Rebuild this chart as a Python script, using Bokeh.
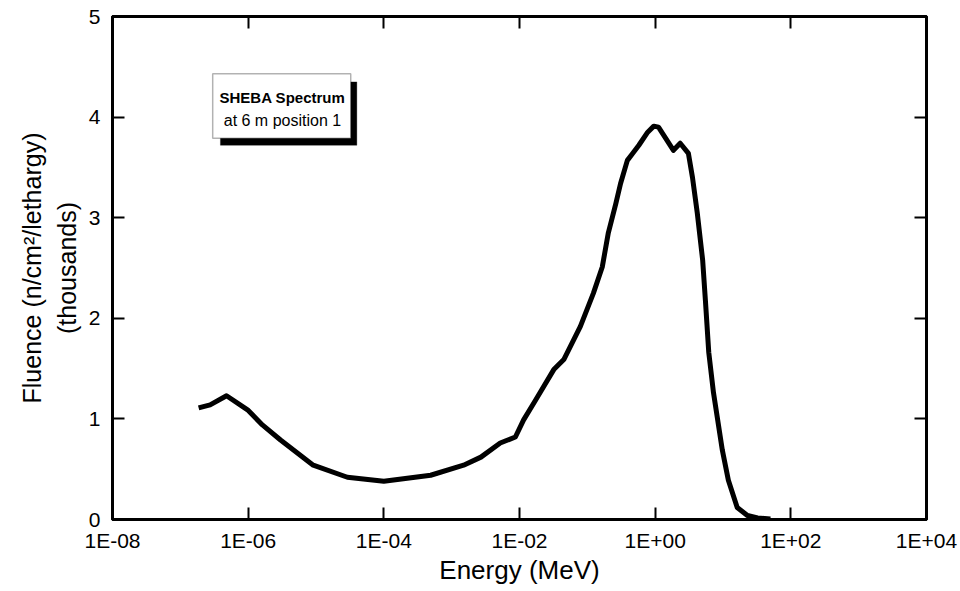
import math
from bokeh.plotting import figure
from bokeh.models import (LinearAxis, FixedTicker, BoxAnnotation, Label, Title,
                          Range1d, ColumnDataSource)
from bokeh.embed import file_html
from bokeh.resources import INLINE

# ---- data ----
energy_mev = [1.86e-7, 2.75e-7, 4.8e-7, 9.8e-7, 1.62e-6, 3.0e-6, 9.1e-6, 2.9e-5, 1.0e-4,
              4.9e-4, 1.5e-3, 2.7e-3, 5.2e-3, 8.7e-3, 1.15e-2, 1.74e-2, 3.2e-2, 4.5e-2,
              7.9e-2, 0.123, 0.166, 0.204, 0.263, 0.309, 0.389, 0.468, 0.575, 0.776,
              0.955, 1.12, 1.86, 2.34, 3.09, 3.55, 4.17, 5.01, 5.50, 6.17, 7.24, 9.77,
              12.0, 16.2, 22.9, 32.4, 50.1]
fluence_k = [1.11, 1.14, 1.23, 1.09, 0.94, 0.79, 0.54, 0.42, 0.38,
             0.44, 0.54, 0.62, 0.76, 0.82, 0.99, 1.19, 1.49, 1.59,
             1.92, 2.25, 2.51, 2.85, 3.14, 3.34, 3.57, 3.64, 3.72, 3.85,
             3.91, 3.90, 3.67, 3.74, 3.64, 3.40, 3.05, 2.58, 2.18, 1.66, 1.26, 0.69,
             0.39, 0.12, 0.04, 0.015, 0.005]

x_ticks = [1e-8, 1e-6, 1e-4, 1e-2, 1e0, 1e2, 1e4]
x_tick_labels = ["1E-08", "1E-06", "1E-04", "1E-02", "1E+00", "1E+02", "1E+04"]
y_ticks = [0, 1, 2, 3, 4, 5]

x_title = "Energy (MeV)"
y_title_1 = "Fluence (n/cm\u00b2/lethargy)"
y_title_2 = "(thousands)"
box_line_1 = "SHEBA Spectrum"
box_line_2 = "at 6 m position 1"

FONT = "Liberation Sans"

p = figure(width=960, height=591, x_axis_type="log", output_backend="svg",
           toolbar_location=None, x_range=Range1d(1e-8, 1e4), y_range=Range1d(0, 5),
           min_border_left=112, min_border_right=34, min_border_top=16,
           min_border_bottom=72)
p.grid.visible = False
p.outline_line_color = "black"
p.outline_line_width = 3
p.background_fill_color = None
p.border_fill_color = "white"

overrides = {t: lab for t, lab in zip(x_ticks, x_tick_labels)}

def style_axis(ax, show_labels):
    ax.axis_line_width = 3
    ax.axis_line_color = "black"
    ax.major_tick_in = 12
    ax.major_tick_out = 0
    ax.major_tick_line_width = 2
    ax.major_tick_line_color = "black"
    ax.minor_tick_line_color = None
    ax.major_label_text_font = FONT
    ax.major_label_text_font_size = "21px" if show_labels else "1px"
    ax.major_label_text_color = "black" if show_labels else None

xa = p.xaxis[0]
xa.ticker = FixedTicker(ticks=x_ticks)
xa.major_label_overrides = overrides
style_axis(xa, True)
xa.major_label_standoff = 9
xa.axis_label = x_title
xa.axis_label_text_font = FONT
xa.axis_label_text_font_style = "normal"
xa.axis_label_text_font_size = "26px"
xa.axis_label_text_color = "black"
xa.axis_label_standoff = 0

ya = p.yaxis[0]
ya.ticker = FixedTicker(ticks=y_ticks)
style_axis(ya, True)
ya.major_label_standoff = 12

top = LinearAxis(ticker=FixedTicker(ticks=x_ticks))
style_axis(top, False)
top.major_label_standoff = 0
p.add_layout(top, "above")

right = LinearAxis(ticker=FixedTicker(ticks=y_ticks))
style_axis(right, False)
p.add_layout(right, "right")

src = ColumnDataSource(dict(x=energy_mev, y=fluence_k))
p.line("x", "y", source=src, line_color="black", line_width=5, line_join="round")

# label box with shadow
p.add_layout(BoxAnnotation(left=3.9e-7, right=4.0e-5, top=4.35, bottom=3.72,
                           fill_color="black", fill_alpha=1, line_color="black"))
p.add_layout(BoxAnnotation(left=3.0e-7, right=3.25e-5, top=4.43, bottom=3.79,
                           fill_color="white", fill_alpha=1, line_color="black",
                           line_width=1.5))
p.add_layout(Label(x=3.2e-6, y=4.19, text=box_line_1, text_font=FONT,
                   text_font_style="bold", text_font_size="15px", text_color="black",
                   text_align="center", text_baseline="middle"))
p.add_layout(Label(x=3.2e-6, y=3.97, text=box_line_2, text_font=FONT,
                   text_font_size="16px", text_color="black",
                   text_align="center", text_baseline="middle"))

# y axis title (two lines), stacked outward from the axis
t2 = Title(text=y_title_2, align="center", text_font=FONT, text_font_size="25px",
           text_font_style="normal", text_color="black", standoff=10, offset=0)
t1 = Title(text=y_title_1, align="center", text_font=FONT, text_font_size="25px",
           text_font_style="normal", text_color="black", standoff=0, offset=0)
p.add_layout(t2, "left")
p.add_layout(t1, "left")

open("out.html", "w").write(file_html(p, INLINE))
